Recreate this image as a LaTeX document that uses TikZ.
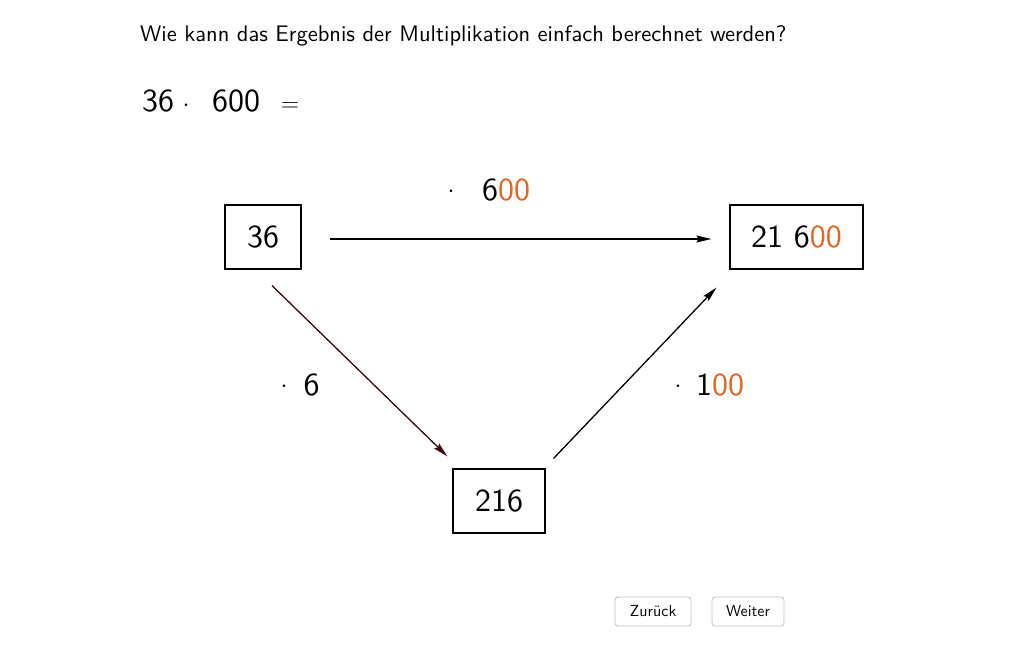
\documentclass[tikz,border=0pt]{standalone}
\usepackage{fontspec}
\setmainfont{lmsans10-regular.otf}
\setsansfont{lmsans10-regular.otf}
\usepackage{tikz}
\usetikzlibrary{arrows.meta,calc}
\definecolor{digitorange}{RGB}{224,102,34}
\definecolor{arrowmaroon}{RGB}{58,10,10}
\definecolor{btngray}{RGB}{190,190,190}
\tikzset{
    numbox/.style={ draw, line width=1.2pt, minimum height=64pt, inner sep=0pt,
                    font=\fontsize{32}{38}\selectfont },
    numtext/.style={ anchor=base west, inner sep=0pt, font=\fontsize{32}{38}\selectfont },
    arr/.style={ line width=1.3pt, -{Stealth[length=15pt,width=7pt,inset=2pt]} },
    btn/.style={ draw=btngray, line width=0.8pt, rounded corners=3pt, minimum height=29pt,
                 inner sep=0pt, font=\fontsize{16}{19}\selectfont }
}
\newcommand{\og}[1]{\textcolor{digitorange}{#1}}
\newcommand{\mdot}{\raisebox{3pt}{$\cdot$}}

\begin{document}
\begin{tikzpicture}[x=1pt,y=-1pt]
        \useasboundingbox[fill=white] (0,0) rectangle (1032,645);
        %\draw[step=50, very thin, gray, dashed] (0,0) grid (1032,645);

        \node[anchor=base west, inner sep=0pt, font=\fontsize{22.5}{27}\selectfont] (question) at (140,41)
            {Wie kann das Ergebnis der Multiplikation einfach berechnet werden?};
        \node[numtext] (task) at (142,111)
            {36\hspace{8.5pt}$\cdot$\hspace{22.6pt}600\hspace{21pt}$=$};

        \node[numbox, minimum width=76pt]  (n36)    at (263,237)   {36};
        \node[numbox, minimum width=133pt] (n21600) at (796.5,237) {21 6\og{00}};
        \node[numbox, minimum width=92pt]  (n216)   at (499,501)   {216};

        \draw[arr] ($(n36.east)+(28,2)$) -- ($(n21600.west)+(-18,2)$);
        \draw[arr, arrowmaroon] ($(n36.south)+(9,16)$) -- ($(n216.north west)+(-5,-12)$);
        \draw[arr] ($(n216.north east)+(8,-10)$) -- ($(n21600.south west)+(-13,18)$);

        \node[numtext] (by600) at (447.5,200) {\mdot\hspace{27.5pt}6\og{00}};
        \node[numtext] (by6)   at (280.5,395) {\mdot\hspace{16pt}6};
        \node[numtext] (by100) at (674.5,395) {\mdot\hspace{14.5pt}1\og{00}};

        \node[btn, minimum width=76pt] (back) at (653,611.5) {Zurück};
        \node[btn, minimum width=72pt] (next) at (748,611.5) {Weiter};

    \end{tikzpicture}
\end{document}
